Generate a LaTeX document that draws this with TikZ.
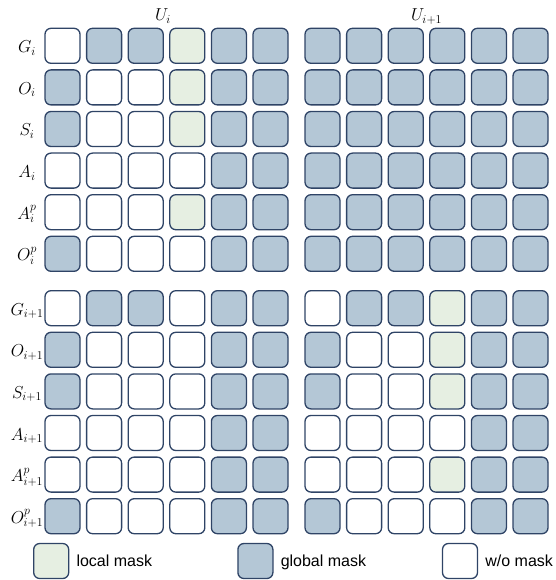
\documentclass[tikz,border=0pt]{standalone}
\usepackage{fontspec}
\newfontfamily\legendfont{Liberation Sans}
\usetikzlibrary{positioning}

\definecolor{gmask}{HTML}{B4C7D6}
\definecolor{lmask}{HTML}{E6EFE2}
\definecolor{cellline}{HTML}{2F4466}

\begin{document}
\begin{tikzpicture}[
    x=1pt, y=-1pt,
    node distance=6pt,
    cell/.style={draw=cellline, line width=1.3pt, rounded corners=6pt, minimum width=35pt, minimum height=35pt, inner sep=0pt},
    maskw/.style={cell, fill=white},
    maskg/.style={cell, fill=gmask},
    maskl/.style={cell, fill=lmask},
    rowlab/.style={anchor=base, font=\fontsize{17.5}{20}\selectfont},
    legtext/.style={inner sep=1pt, text height=12pt, text depth=1pt, font=\legendfont\fontsize{16}{18}\selectfont}
  ]
    \useasboundingbox (0,0) rectangle (555,580);

    % column titles
    \node[rowlab] (ui) at (163,21) {$U_i$};
    \node[rowlab] (uip) at (426.5,21) {$U_{i+1}$};

    % row labels
    \foreach \lab [count=\r] in {G_i, O_i, S_i, A_i, A_i^p, O_i^p, G_{i+1}, O_{i+1}, S_{i+1}, A_{i+1}, A_{i+1}^p, O_{i+1}^p} {
      \pgfmathsetmacro\yy{45.8+41.6*(\r-1)+(\r>6)*12.8}
      \node[rowlab] (lab\r) at (27,\yy+7) {$\lab$};
    }

    % mask grid: w = w/o mask, g = global mask, l = local mask
    \foreach \pat [count=\r] in {
        {w,g,g,l,g,g,g,g,g,g,g,g},
        {g,w,w,l,g,g,g,g,g,g,g,g},
        {g,w,w,l,g,g,g,g,g,g,g,g},
        {w,w,w,w,g,g,g,g,g,g,g,g},
        {w,w,w,l,g,g,g,g,g,g,g,g},
        {g,w,w,w,g,g,g,g,g,g,g,g},
        {w,g,g,w,g,g,w,g,g,l,g,g},
        {g,w,w,w,g,g,g,w,w,l,g,g},
        {g,w,w,w,g,g,g,w,w,l,g,g},
        {w,w,w,w,g,g,w,w,w,w,g,g},
        {w,w,w,w,g,g,w,w,w,l,g,g},
        {g,w,w,w,g,g,g,w,w,w,g,g}} {
      \pgfmathsetmacro\yy{45.8+41.6*(\r-1)+(\r>6)*12.8}
      \foreach \m [count=\c] in \pat {
        \pgfmathsetmacro\xx{62.5+41.6*(\c-1)+(\c>6)*10.4}
        \node[mask\m] (c-\r-\c) at (\xx,\yy) {};
      }
    }

    % legend
    \node[maskl] (legl) at (51.2,561) {};
    \node[legtext, right=of legl] (legltxt) {local mask};
    \node[maskg] (legg) at (255.4,561) {};
    \node[legtext, right=of legg] (leggtxt) {global mask};
    \node[maskw] (legw) at (460,561) {};
    \node[legtext, right=of legw] (legwtxt) {w/o mask};
\end{tikzpicture}
\end{document}
